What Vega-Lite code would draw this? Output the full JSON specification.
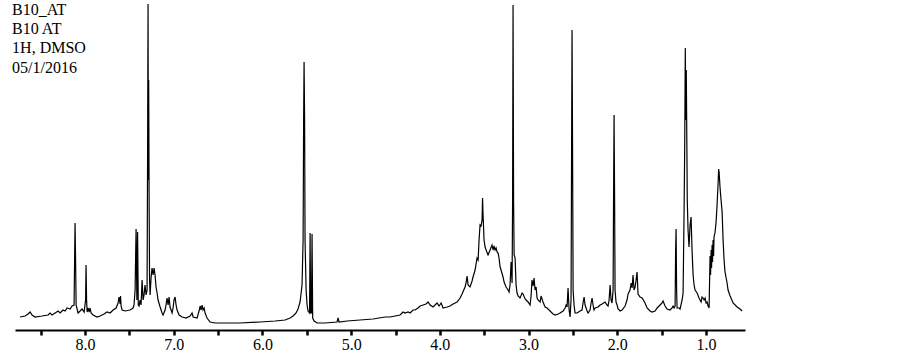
{
"$schema": "https://vega.github.io/schema/vega-lite/v6.json",
"width": 730, "height": 330,
"autosize": {"type": "none"},
"padding": {"left": 15, "top": 0, "right": 158, "bottom": 25},
"background": "white",
"config": {"view": {"stroke": null}, "font": "Liberation Serif"},
"layer": [
{"data": {"values": [
{"d":8.733,"i":13},{"d":8.676,"i":14},{"d":8.643,"i":16},{"d":8.620,"i":18},{"d":8.598,"i":15},{"d":8.564,"i":13},{"d":8.485,"i":14},{"d":8.417,"i":15},{"d":8.395,"i":17},{"d":8.372,"i":15},{"d":8.338,"i":17},{"d":8.304,"i":19},{"d":8.282,"i":17},{"d":8.248,"i":20},{"d":8.225,"i":19},{"d":8.203,"i":22},{"d":8.169,"i":21},{"d":8.147,"i":24},{"d":8.124,"i":25},{"d":8.118,"i":70},{"d":8.113,"i":107},{"d":8.107,"i":70},{"d":8.101,"i":25},{"d":8.079,"i":17},{"d":8.056,"i":19},{"d":8.034,"i":21},{"d":8.011,"i":18},{"d":7.994,"i":30},{"d":7.989,"i":65},{"d":7.983,"i":30},{"d":7.977,"i":18},{"d":7.966,"i":22},{"d":7.955,"i":18},{"d":7.944,"i":22},{"d":7.932,"i":17},{"d":7.910,"i":15},{"d":7.865,"i":13},{"d":7.831,"i":14},{"d":7.786,"i":16},{"d":7.752,"i":18},{"d":7.718,"i":17},{"d":7.684,"i":20},{"d":7.650,"i":22},{"d":7.628,"i":27},{"d":7.617,"i":33},{"d":7.605,"i":26},{"d":7.600,"i":34},{"d":7.594,"i":24},{"d":7.583,"i":20},{"d":7.549,"i":19},{"d":7.493,"i":20},{"d":7.459,"i":22},{"d":7.448,"i":25},{"d":7.436,"i":40},{"d":7.425,"i":101},{"d":7.416,"i":30},{"d":7.408,"i":98},{"d":7.400,"i":25},{"d":7.391,"i":24},{"d":7.380,"i":30},{"d":7.369,"i":25},{"d":7.357,"i":50},{"d":7.346,"i":30},{"d":7.335,"i":35},{"d":7.324,"i":45},{"d":7.312,"i":35},{"d":7.301,"i":40},{"d":7.295,"i":180},{"d":7.290,"i":326},{"d":7.286,"i":150},{"d":7.283,"i":250},{"d":7.278,"i":130},{"d":7.273,"i":50},{"d":7.267,"i":35},{"d":7.256,"i":52},{"d":7.245,"i":62},{"d":7.233,"i":55},{"d":7.222,"i":62},{"d":7.211,"i":55},{"d":7.200,"i":43},{"d":7.188,"i":37},{"d":7.177,"i":30},{"d":7.154,"i":23},{"d":7.132,"i":17},{"d":7.121,"i":15},{"d":7.098,"i":20},{"d":7.087,"i":25},{"d":7.076,"i":32},{"d":7.064,"i":25},{"d":7.053,"i":33},{"d":7.042,"i":23},{"d":7.019,"i":17},{"d":7.008,"i":22},{"d":6.997,"i":30},{"d":6.985,"i":33},{"d":6.974,"i":25},{"d":6.963,"i":20},{"d":6.940,"i":15},{"d":6.906,"i":13},{"d":6.861,"i":12},{"d":6.816,"i":14},{"d":6.794,"i":17},{"d":6.782,"i":13},{"d":6.737,"i":12},{"d":6.715,"i":19},{"d":6.703,"i":24},{"d":6.692,"i":20},{"d":6.681,"i":25},{"d":6.670,"i":20},{"d":6.658,"i":22},{"d":6.647,"i":17},{"d":6.625,"i":12},{"d":6.591,"i":8},{"d":6.534,"i":7},{"d":6.478,"i":7},{"d":6.253,"i":7},{"d":6.027,"i":8},{"d":5.858,"i":9},{"d":5.745,"i":10},{"d":5.689,"i":12},{"d":5.655,"i":14},{"d":5.621,"i":17},{"d":5.599,"i":21},{"d":5.576,"i":28},{"d":5.554,"i":45},{"d":5.542,"i":90},{"d":5.536,"i":210},{"d":5.531,"i":268},{"d":5.525,"i":210},{"d":5.520,"i":90},{"d":5.508,"i":40},{"d":5.497,"i":25},{"d":5.486,"i":19},{"d":5.469,"i":17},{"d":5.463,"i":97},{"d":5.457,"i":17},{"d":5.448,"i":17},{"d":5.441,"i":96},{"d":5.434,"i":12},{"d":5.418,"i":9},{"d":5.384,"i":7},{"d":5.294,"i":7},{"d":5.159,"i":8},{"d":5.148,"i":12},{"d":5.136,"i":8},{"d":5.046,"i":9},{"d":4.900,"i":10},{"d":4.753,"i":11},{"d":4.618,"i":13},{"d":4.561,"i":13},{"d":4.505,"i":14},{"d":4.449,"i":15},{"d":4.415,"i":18},{"d":4.392,"i":17},{"d":4.358,"i":18},{"d":4.336,"i":17},{"d":4.302,"i":20},{"d":4.280,"i":20},{"d":4.246,"i":22},{"d":4.223,"i":24},{"d":4.189,"i":25},{"d":4.156,"i":26},{"d":4.133,"i":28},{"d":4.110,"i":25},{"d":4.077,"i":23},{"d":4.054,"i":25},{"d":4.032,"i":27},{"d":4.009,"i":24},{"d":3.986,"i":27},{"d":3.964,"i":22},{"d":3.919,"i":23},{"d":3.885,"i":24},{"d":3.851,"i":26},{"d":3.806,"i":28},{"d":3.772,"i":32},{"d":3.750,"i":36},{"d":3.716,"i":43},{"d":3.705,"i":47},{"d":3.693,"i":54},{"d":3.682,"i":45},{"d":3.660,"i":43},{"d":3.637,"i":49},{"d":3.626,"i":53},{"d":3.603,"i":60},{"d":3.581,"i":72},{"d":3.569,"i":70},{"d":3.558,"i":90},{"d":3.547,"i":105},{"d":3.536,"i":104},{"d":3.524,"i":110},{"d":3.519,"i":132},{"d":3.513,"i":115},{"d":3.502,"i":90},{"d":3.490,"i":83},{"d":3.479,"i":80},{"d":3.457,"i":75},{"d":3.434,"i":80},{"d":3.412,"i":85},{"d":3.400,"i":80},{"d":3.389,"i":84},{"d":3.378,"i":80},{"d":3.366,"i":82},{"d":3.355,"i":78},{"d":3.344,"i":77},{"d":3.333,"i":72},{"d":3.321,"i":63},{"d":3.310,"i":60},{"d":3.288,"i":53},{"d":3.276,"i":48},{"d":3.254,"i":43},{"d":3.231,"i":40},{"d":3.220,"i":38},{"d":3.209,"i":45},{"d":3.197,"i":68},{"d":3.186,"i":47},{"d":3.180,"i":130},{"d":3.175,"i":325},{"d":3.169,"i":130},{"d":3.163,"i":75},{"d":3.152,"i":72},{"d":3.141,"i":45},{"d":3.130,"i":37},{"d":3.118,"i":34},{"d":3.096,"i":32},{"d":3.073,"i":37},{"d":3.062,"i":36},{"d":3.039,"i":31},{"d":3.006,"i":28},{"d":2.983,"i":25},{"d":2.972,"i":34},{"d":2.961,"i":50},{"d":2.949,"i":44},{"d":2.938,"i":52},{"d":2.927,"i":40},{"d":2.915,"i":43},{"d":2.904,"i":32},{"d":2.893,"i":30},{"d":2.870,"i":28},{"d":2.859,"i":34},{"d":2.837,"i":28},{"d":2.814,"i":23},{"d":2.791,"i":22},{"d":2.758,"i":19},{"d":2.724,"i":16},{"d":2.701,"i":15},{"d":2.667,"i":16},{"d":2.645,"i":17},{"d":2.611,"i":19},{"d":2.588,"i":22},{"d":2.577,"i":25},{"d":2.566,"i":23},{"d":2.555,"i":42},{"d":2.543,"i":20},{"d":2.532,"i":13},{"d":2.521,"i":30},{"d":2.515,"i":180},{"d":2.510,"i":300},{"d":2.504,"i":180},{"d":2.498,"i":40},{"d":2.487,"i":25},{"d":2.476,"i":17},{"d":2.453,"i":17},{"d":2.419,"i":19},{"d":2.397,"i":20},{"d":2.386,"i":27},{"d":2.374,"i":33},{"d":2.363,"i":25},{"d":2.340,"i":19},{"d":2.329,"i":17},{"d":2.307,"i":20},{"d":2.295,"i":27},{"d":2.284,"i":32},{"d":2.273,"i":25},{"d":2.262,"i":20},{"d":2.250,"i":22},{"d":2.216,"i":23},{"d":2.194,"i":25},{"d":2.171,"i":26},{"d":2.138,"i":28},{"d":2.115,"i":25},{"d":2.104,"i":24},{"d":2.092,"i":30},{"d":2.081,"i":45},{"d":2.070,"i":30},{"d":2.059,"i":27},{"d":2.047,"i":40},{"d":2.042,"i":130},{"d":2.036,"i":215},{"d":2.030,"i":130},{"d":2.025,"i":40},{"d":2.014,"i":28},{"d":2.002,"i":25},{"d":1.991,"i":21},{"d":1.968,"i":19},{"d":1.946,"i":20},{"d":1.912,"i":24},{"d":1.890,"i":30},{"d":1.878,"i":36},{"d":1.856,"i":40},{"d":1.844,"i":47},{"d":1.833,"i":42},{"d":1.822,"i":55},{"d":1.811,"i":40},{"d":1.799,"i":43},{"d":1.788,"i":50},{"d":1.777,"i":58},{"d":1.766,"i":36},{"d":1.743,"i":33},{"d":1.720,"i":32},{"d":1.687,"i":27},{"d":1.664,"i":22},{"d":1.630,"i":19},{"d":1.608,"i":18},{"d":1.574,"i":19},{"d":1.551,"i":22},{"d":1.540,"i":23},{"d":1.517,"i":25},{"d":1.495,"i":27},{"d":1.484,"i":29},{"d":1.461,"i":24},{"d":1.439,"i":21},{"d":1.405,"i":20},{"d":1.382,"i":22},{"d":1.371,"i":24},{"d":1.360,"i":22},{"d":1.348,"i":24},{"d":1.342,"i":80},{"d":1.337,"i":101},{"d":1.331,"i":40},{"d":1.326,"i":22},{"d":1.303,"i":22},{"d":1.292,"i":21},{"d":1.269,"i":30},{"d":1.258,"i":37},{"d":1.247,"i":117},{"d":1.240,"i":180},{"d":1.233,"i":282},{"d":1.229,"i":210},{"d":1.222,"i":260},{"d":1.215,"i":180},{"d":1.211,"i":130},{"d":1.202,"i":100},{"d":1.191,"i":83},{"d":1.179,"i":105},{"d":1.168,"i":113},{"d":1.157,"i":80},{"d":1.145,"i":55},{"d":1.134,"i":45},{"d":1.123,"i":40},{"d":1.100,"i":37},{"d":1.078,"i":32},{"d":1.067,"i":30},{"d":1.055,"i":28},{"d":1.044,"i":33},{"d":1.033,"i":32},{"d":1.021,"i":30},{"d":1.010,"i":32},{"d":0.999,"i":27},{"d":0.988,"i":28},{"d":0.976,"i":24},{"d":0.965,"i":22},{"d":0.959,"i":50},{"d":0.954,"i":74},{"d":0.948,"i":55},{"d":0.942,"i":80},{"d":0.937,"i":62},{"d":0.931,"i":85},{"d":0.926,"i":68},{"d":0.920,"i":90},{"d":0.914,"i":74},{"d":0.909,"i":93},{"d":0.897,"i":98},{"d":0.886,"i":108},{"d":0.875,"i":125},{"d":0.864,"i":145},{"d":0.857,"i":161},{"d":0.852,"i":158},{"d":0.841,"i":142},{"d":0.830,"i":130},{"d":0.818,"i":118},{"d":0.807,"i":90},{"d":0.796,"i":70},{"d":0.785,"i":58},{"d":0.762,"i":47},{"d":0.751,"i":40},{"d":0.728,"i":34},{"d":0.694,"i":27},{"d":0.649,"i":23},{"d":0.616,"i":21},{"d":0.593,"i":19}
]},
"mark": {"type": "line", "color": "black", "strokeWidth": 1.2},
"encoding": {
"x": {"field": "d", "type": "quantitative", "scale": {"domain": [8.79, 0.56], "nice": false, "zero": false},
"axis": {"values": [8.5,8,7.5,7,6.5,6,5.5,5,4.5,4,3.5,3,2.5,2,1.5,1], "labelExpr": "datum.value % 1 === 0 ? format(datum.value, '.1f') : ''", "title": null, "grid": false, "domainColor": "black", "domainWidth": 2, "tickColor": "black", "tickWidth": 2.5, "tickSize": 5, "labelFont": "Liberation Serif", "labelFontSize": 16, "labelColor": "black", "labelPadding": 1, "labelFlush": false, "labelOverlap": false}},
"y": {"field": "i", "type": "quantitative", "scale": {"domain": [0, 330], "nice": false}, "axis": null}
}},
{"data": {"values": [
{"t": "B10_AT", "d": 8.823, "i": 315},
{"t": "B10 AT", "d": 8.823, "i": 296},
{"t": "1H, DMSO", "d": 8.823, "i": 277},
{"t": "05/1/2016", "d": 8.823, "i": 257}
]},
"mark": {"type": "text", "align": "left", "baseline": "alphabetic", "fontSize": 16, "font": "Liberation Serif", "color": "black"},
"encoding": {
"x": {"field": "d", "type": "quantitative"},
"y": {"field": "i", "type": "quantitative"},
"text": {"field": "t"}
}}
]
}
